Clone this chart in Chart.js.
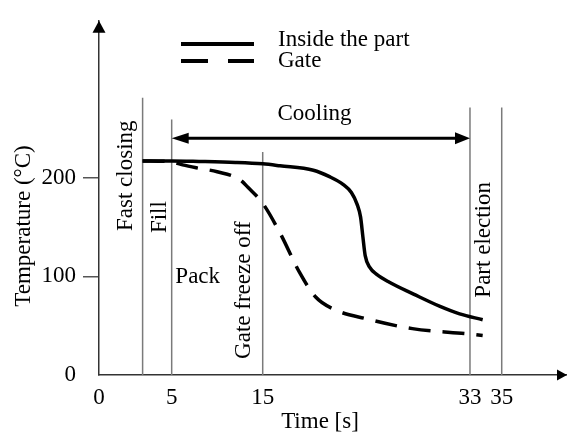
<!DOCTYPE html>
<html>
<head>
<meta charset="utf-8">
<title>Injection moulding temperature profile</title>
<script src="https://cdn.jsdelivr.net/npm/chart.js@4"></script>
<style>
  html, body { margin: 0; padding: 0; background: #fff; }
  canvas { display: block; }
</style>
</head>
<body>
<canvas id="profileChart" width="567" height="432"></canvas>
<script>
// Tick labels
const timeTicks = [0, 5, 15, 33, 35];
const tempTicks = [0, 100, 200];

// Inside the part (solid)
const insideTime = [3, 5, 8, 12, 15, 16.5, 19.4, 20.8, 22, 22.7, 23.2, 23.5, 23.7, 23.9, 24.3, 24.9, 26, 28.1, 30.4, 32.1, 33.8];
const insideTemp = [217, 217, 216.5, 215.5, 214, 212, 207.5, 201, 193, 185, 173, 160, 140, 121, 109, 102, 94, 82, 69.5, 62, 56];

// Gate (dashed)
const gateTime = [3, 5, 6.2, 7.7, 10, 12.5, 13.4, 15, 16.5, 18.2, 19.6, 21.3, 24, 28, 33, 33.8];
const gateTemp = [217, 216, 213, 210, 206, 198, 190, 174, 144, 104, 79, 66, 57, 47, 41.5, 40];

// Phase boundaries and how high each line reaches
const phaseTimes = [3, 5, 15, 33, 35];
const phaseTops = [281, 259, 226, 271, 271];

// Cooling span
const coolingFrom = 5;
const coolingTo = 33;
const coolingTemp = 240;

const FONT = '"Liberation Serif", "Times New Roman", serif';
Chart.defaults.font.family = FONT;
Chart.defaults.font.size = 23;
Chart.defaults.color = '#000';

// Time axis is schematic: every stretch between marks gets its own width
const axisBreaks = [0, 5, 15, 33, 35, 39.1];
const axisFractions = [0, 0.1553, 0.3498, 0.7927, 0.8605, 1];

class SegmentedScale extends Chart.LinearScale {
  static id = 'segmented';

  getPixelForValue(value) {
    let i = 1;
    while (i < axisBreaks.length - 1 && value > axisBreaks[i]) i++;
    const a = axisBreaks[i - 1], b = axisBreaks[i];
    const fa = axisFractions[i - 1], fb = axisFractions[i];
    const frac = fa + (value - a) / (b - a) * (fb - fa);
    return this.left + frac * this.width;
  }

  getValueForPixel(pixel) {
    const frac = (pixel - this.left) / this.width;
    let i = 1;
    while (i < axisFractions.length - 1 && frac > axisFractions[i]) i++;
    const fa = axisFractions[i - 1], fb = axisFractions[i];
    return axisBreaks[i - 1] + (frac - fa) / (fb - fa) * (axisBreaks[i] - axisBreaks[i - 1]);
  }
}
Chart.register(SegmentedScale);

function drawText(ctx, text, px, py, rotated) {
  ctx.save();
  ctx.translate(px, py);
  if (rotated) ctx.rotate(-Math.PI / 2);
  ctx.textAlign = 'center';
  ctx.textBaseline = 'middle';
  ctx.fillText(text, 0, 0);
  ctx.restore();
}

function arrowHead(ctx, tipX, tipY, dirX, dirY, len, half) {
  const bx = tipX - dirX * len, by = tipY - dirY * len;
  ctx.beginPath();
  ctx.moveTo(tipX, tipY);
  ctx.lineTo(bx - dirY * half, by + dirX * half);
  ctx.lineTo(bx + dirY * half, by - dirX * half);
  ctx.closePath();
  ctx.fill();
}

// Labels placed in data coordinates (time, temperature)
const phaseLabels = [
  { text: 'Fast closing', t: 1.86, temp: 202, rotated: true },
  { text: 'Fill', t: 4.17, temp: 160, rotated: true },
  { text: 'Pack', t: 7.86, temp: 99, rotated: false },
  { text: 'Gate freeze off', t: 12.9, temp: 86, rotated: true },
  { text: 'Part election', t: 33.9, temp: 137, rotated: true },
  { text: 'Cooling', t: 19.5, temp: 265, rotated: false }
];

const schematicMarks = {
  id: 'schematicMarks',
  beforeDatasetsDraw(chart) {
    const { ctx, scales: { x, y } } = chart;
    ctx.save();
    ctx.strokeStyle = '#7a7a7a';
    ctx.lineWidth = 1.5;
    phaseTimes.forEach((t, i) => {
      const px = x.getPixelForValue(t);
      ctx.beginPath();
      ctx.moveTo(px, y.getPixelForValue(phaseTops[i]));
      ctx.lineTo(px, y.getPixelForValue(0));
      ctx.stroke();
    });
    ctx.restore();
  },
  afterDraw(chart) {
    const { ctx, chartArea, scales: { x, y } } = chart;
    ctx.save();
    ctx.fillStyle = '#000';
    ctx.strokeStyle = '#000';

    // axis arrow heads
    arrowHead(ctx, chartArea.left, chartArea.top, 0, -1, 12, 6.5);
    arrowHead(ctx, chartArea.right, chartArea.bottom, 1, 0, 10, 5.5);

    // cooling span arrow
    const cy = y.getPixelForValue(coolingTemp);
    const cx1 = x.getPixelForValue(coolingFrom);
    const cx2 = x.getPixelForValue(coolingTo);
    ctx.lineWidth = 3;
    ctx.beginPath();
    ctx.moveTo(cx1 + 10, cy);
    ctx.lineTo(cx2 - 10, cy);
    ctx.stroke();
    arrowHead(ctx, cx1, cy, -1, 0, 17, 5.5);
    arrowHead(ctx, cx2, cy, 1, 0, 15, 6);

    // phase and axis labels
    ctx.font = '23px ' + FONT;
    phaseLabels.forEach(l => {
      drawText(ctx, l.text, x.getPixelForValue(l.t), y.getPixelForValue(l.temp), l.rotated);
    });
    drawText(ctx, 'Temperature (°C)', 24, 226, true);
    drawText(ctx, 'Time [s]', 320, 422, false);

    // legend
    const sets = chart.data.datasets;
    [44, 61].forEach((ly, i) => {
      ctx.lineWidth = 4;
      ctx.setLineDash(i === 0 ? [] : [27, 20]);
      ctx.beginPath();
      ctx.moveTo(181, ly);
      ctx.lineTo(254, ly);
      ctx.stroke();
      ctx.setLineDash([]);
      ctx.textAlign = 'left';
      ctx.textBaseline = 'middle';
      ctx.fillText(sets[i].label, 278, ly - 4 + i * 4);
    });
    ctx.restore();
  }
};

const toPoints = (xs, ys) => xs.map((t, i) => ({ x: t, y: ys[i] }));

new Chart(document.getElementById('profileChart'), {
  type: 'line',
  data: {
    datasets: [
      {
        label: 'Inside the part',
        data: toPoints(insideTime, insideTemp),
        borderColor: '#000',
        borderWidth: 3.5,
        pointRadius: 0,
        cubicInterpolationMode: 'monotone'
      },
      {
        label: 'Gate',
        data: toPoints(gateTime, gateTemp),
        borderColor: '#000',
        borderWidth: 3.5,
        borderDash: [22, 12],
        pointRadius: 0,
        cubicInterpolationMode: 'monotone'
      }
    ]
  },
  options: {
    responsive: false,
    animation: false,
    layout: { padding: { top: 12, left: 0, right: 0, bottom: 0 } },
    plugins: {
      legend: { display: false },
      tooltip: { enabled: false }
    },
    scales: {
      x: {
        type: 'segmented',
        min: 0,
        max: 39.1,
        afterBuildTicks: scale => { scale.ticks = timeTicks.map(v => ({ value: v })); },
        afterFit: scale => { scale.height = 57; },
        grid: { display: false, drawTicks: false },
        border: { display: true, color: '#333', width: 1.5 },
        ticks: { autoSkip: false, maxRotation: 0, padding: 9 }
      },
      y: {
        min: 0,
        max: 359,
        afterBuildTicks: scale => { scale.ticks = tempTicks.map(v => ({ value: v })); },
        afterFit: scale => { scale.width = 99; },
        grid: {
          drawOnChartArea: false,
          tickLength: 16,
          lineWidth: 1.5,
          color: c => (c.tick && c.tick.value === 0 ? 'rgba(0,0,0,0)' : '#555')
        },
        border: { display: true, color: '#333', width: 1.5 },
        ticks: { padding: 7 }
      }
    }
  },
  plugins: [schematicMarks]
});
</script>
</body>
</html>
